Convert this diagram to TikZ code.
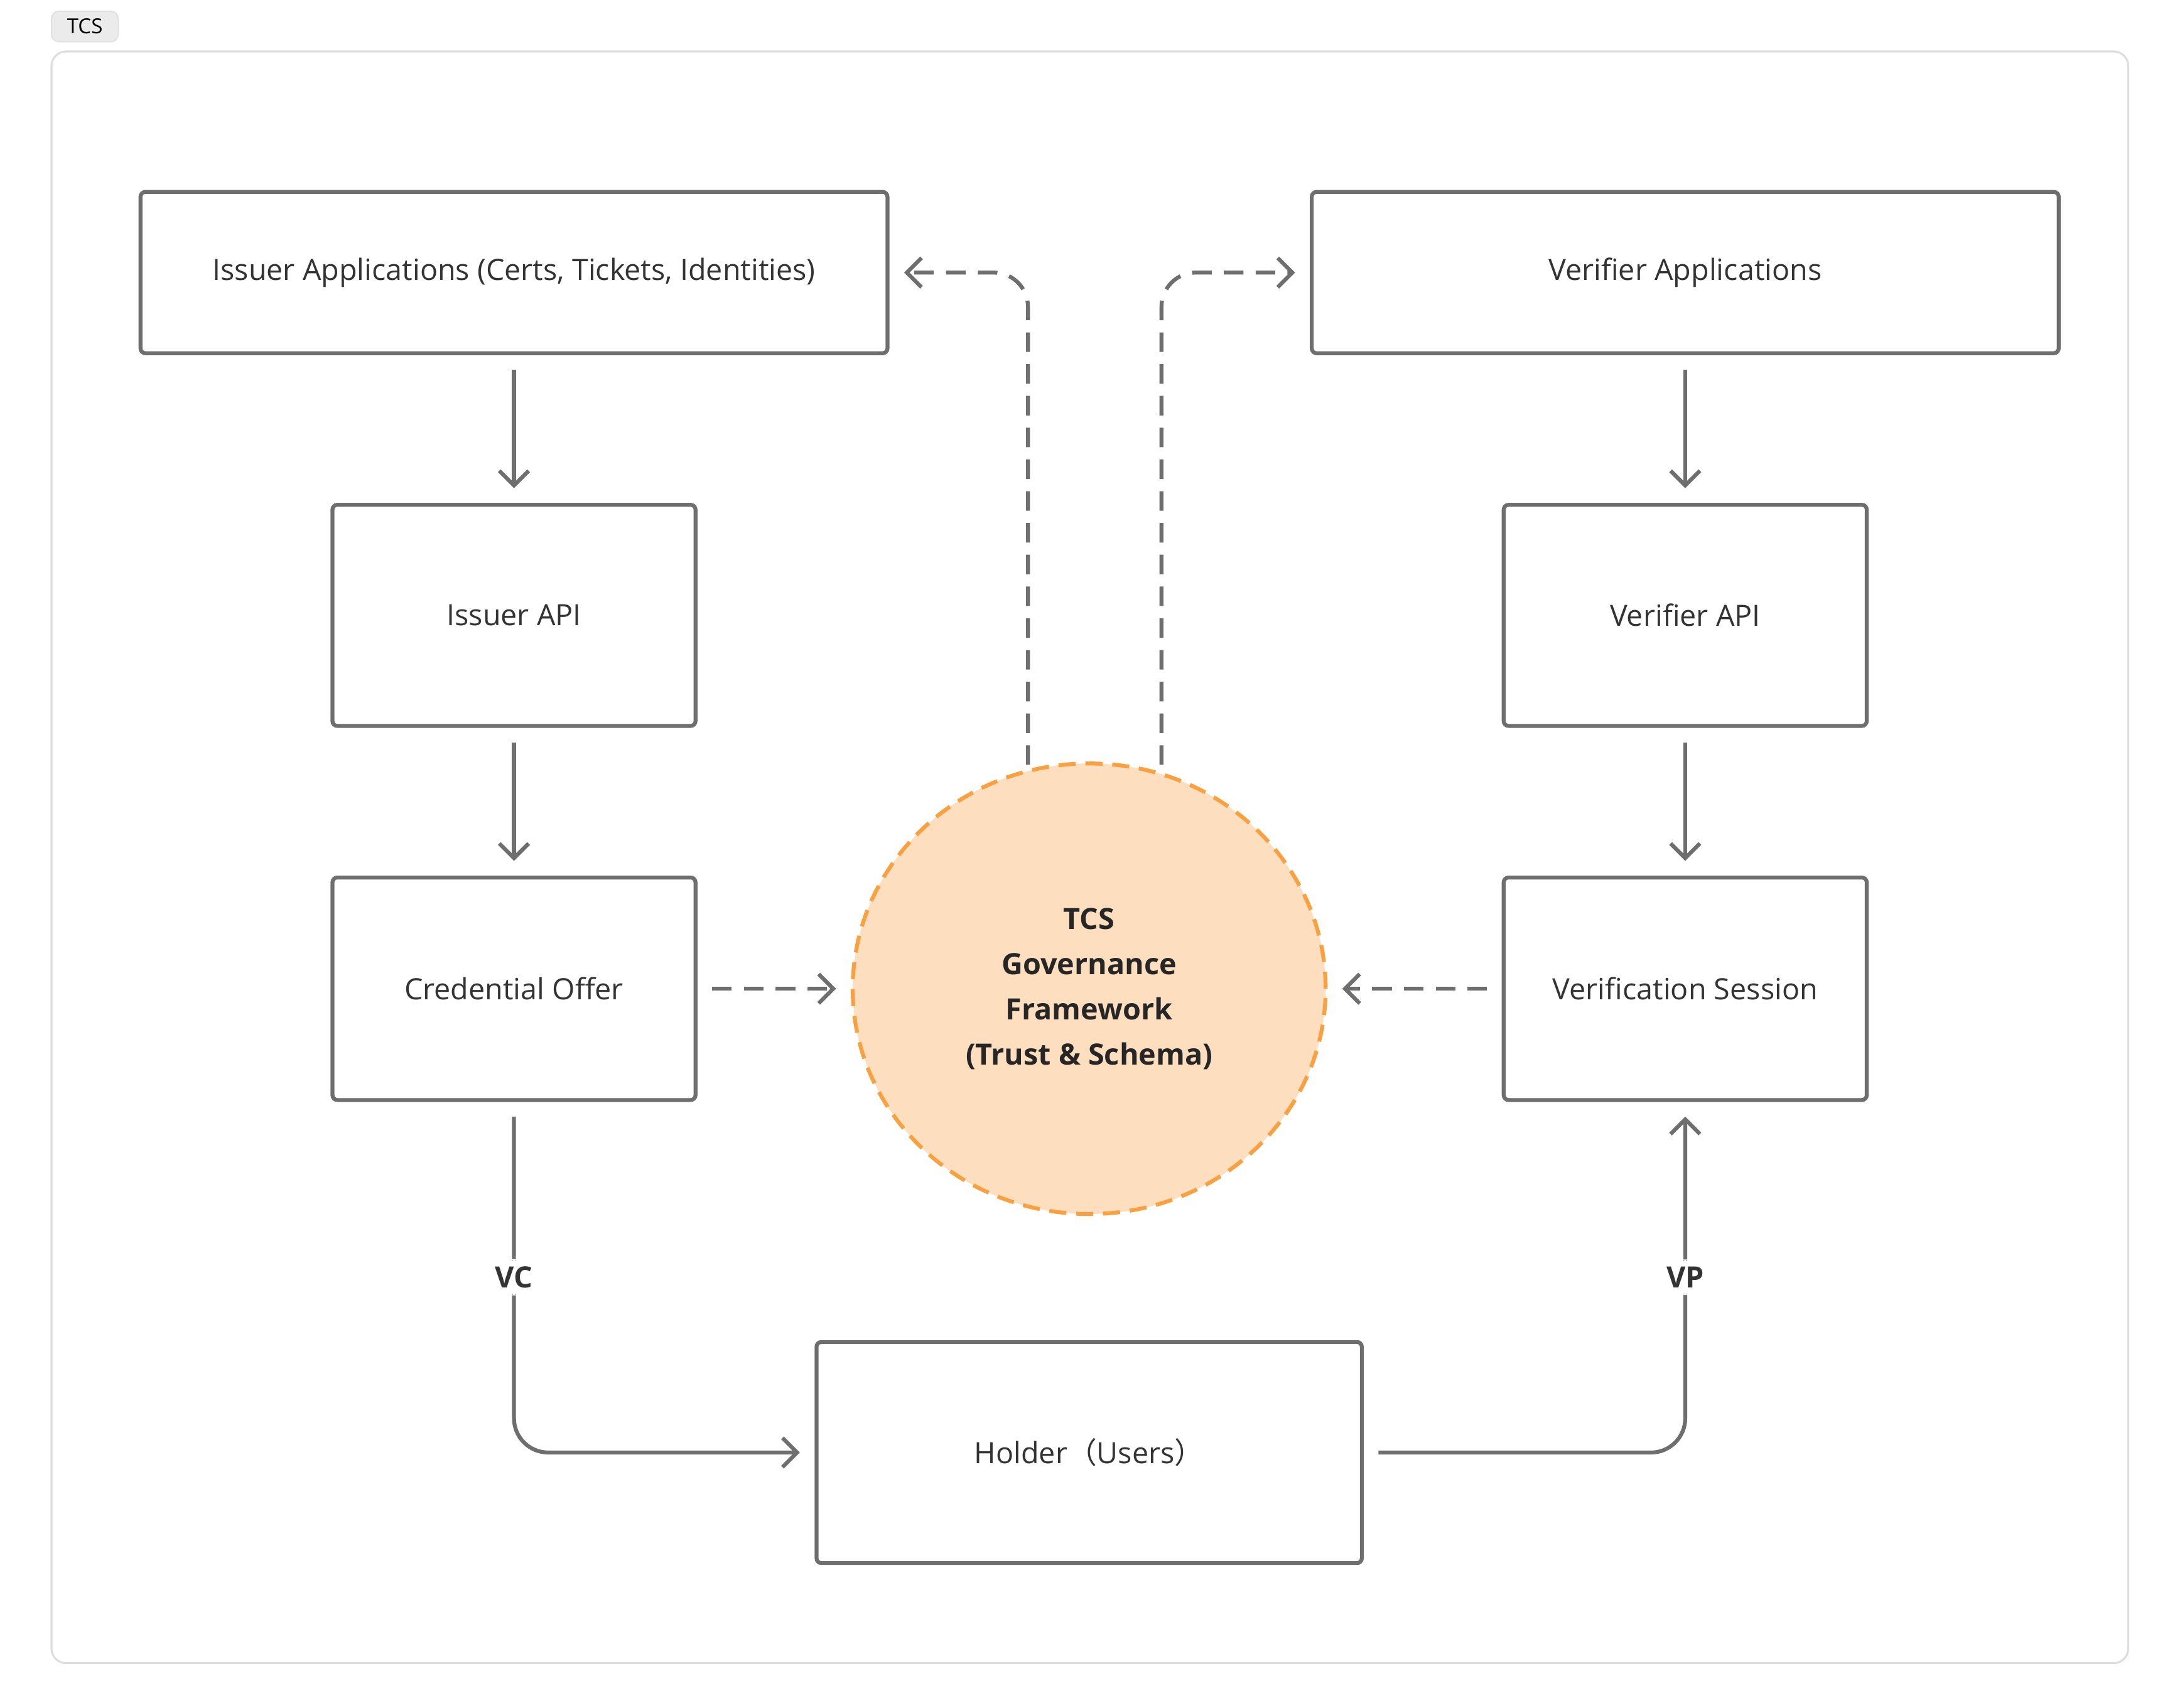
\documentclass[tikz,border=0pt]{standalone}
\usepackage{fontspec}
\setmainfont{Open Sans}
\newfontfamily\cjk{Noto Sans CJK SC}
\usetikzlibrary{arrows.meta,shapes.geometric}
\definecolor{edgegray}{HTML}{6E6E6E}
\definecolor{framegray}{HTML}{DDDDDD}
\definecolor{tcsorange}{HTML}{F9A040}
\definecolor{tcsfill}{HTML}{FDDFC0}
\begin{document}
\begin{tikzpicture}[x=0.02cm,y=-0.02cm,
  box/.style={draw=edgegray,line width=1.6pt,rounded corners=2pt,font=\fontsize{12}{14}\selectfont,text=black!80},
  flow/.style={draw=edgegray,line width=1.6pt,-{Straight Barb[length=6pt,width=12pt]},rounded corners=14pt},
  link/.style={flow,dash pattern=on 8pt off 5pt},
  lbl/.style={font=\bfseries\fontsize{12}{14}\selectfont,text=black!80,fill=white,inner sep=3pt}]
\useasboundingbox (0,0) rectangle (1560,1228);
\draw[framegray,line width=0.8pt,rounded corners=6pt] (37,37) rectangle (1530,1196);
\node[draw=framegray,fill=black!8,rounded corners=3pt,font=\fontsize{8.5}{9}\selectfont,minimum width=48*0.02cm,minimum height=22*0.02cm,inner sep=0pt] (tag) at (61,19) {TCS};

\node[box,minimum width=537*0.02cm,minimum height=116*0.02cm] (issapp) at (369.5,196) {Issuer Applications (Certs, Tickets, Identities)};
\node[box,minimum width=537*0.02cm,minimum height=116*0.02cm] (verapp) at (1211.5,196) {Verifier Applications};
\node[box,minimum width=261*0.02cm,minimum height=159*0.02cm] (issapi) at (369.5,442.5) {Issuer API};
\node[box,minimum width=261*0.02cm,minimum height=159*0.02cm] (verapi) at (1211.5,442.5) {Verifier API};
\node[box,minimum width=261*0.02cm,minimum height=160*0.02cm] (offer) at (369.5,711) {Credential Offer};
\node[box,minimum width=261*0.02cm,minimum height=160*0.02cm] (session) at (1211.5,711) {Verification Session};
\node[box,minimum width=392*0.02cm,minimum height=159*0.02cm] (holder) at (783,1044.5) {Holder{\cjk（}Users{\cjk）}};
\node[ellipse,draw=tcsorange,fill=tcsfill,line width=1.6pt,dash pattern=on 7pt off 4pt,minimum width=340*0.02cm,minimum height=324*0.02cm,align=center,font=\bfseries\fontsize{12}{18.5}\selectfont,text=black!85] (tcs) at (783,711) {TCS\\Governance\\Framework\\(Trust \& Schema)};

\coordinate (lt) at (739,550);
\coordinate (rt) at (835,550);

\draw[flow,shorten <=6pt,shorten >=6pt] (issapp) -- (issapi);
\draw[flow,shorten <=6pt,shorten >=6pt] (issapi) -- (offer);
\draw[flow,shorten <=6pt,shorten >=6pt] (verapp) -- (verapi);
\draw[flow,shorten <=6pt,shorten >=6pt] (verapi) -- (session);
\draw[flow,shorten <=6pt,shorten >=6pt] (offer.south) |- (holder.west) node[lbl,pos=0.25] (vc) {VC};
\draw[flow,shorten <=6pt,shorten >=6pt] (holder.east) -| (session.south) node[lbl,pos=0.75] (vp) {VP};
\draw[link,shorten <=6pt,shorten >=6pt] (offer) -- (tcs);
\draw[link,shorten <=6pt,shorten >=6pt] (session) -- (tcs);
\draw[link,shorten >=6pt] (lt) |- (issapp.east);
\draw[link,shorten >=6pt] (rt) |- (verapp.west);
\end{tikzpicture}
\end{document}
